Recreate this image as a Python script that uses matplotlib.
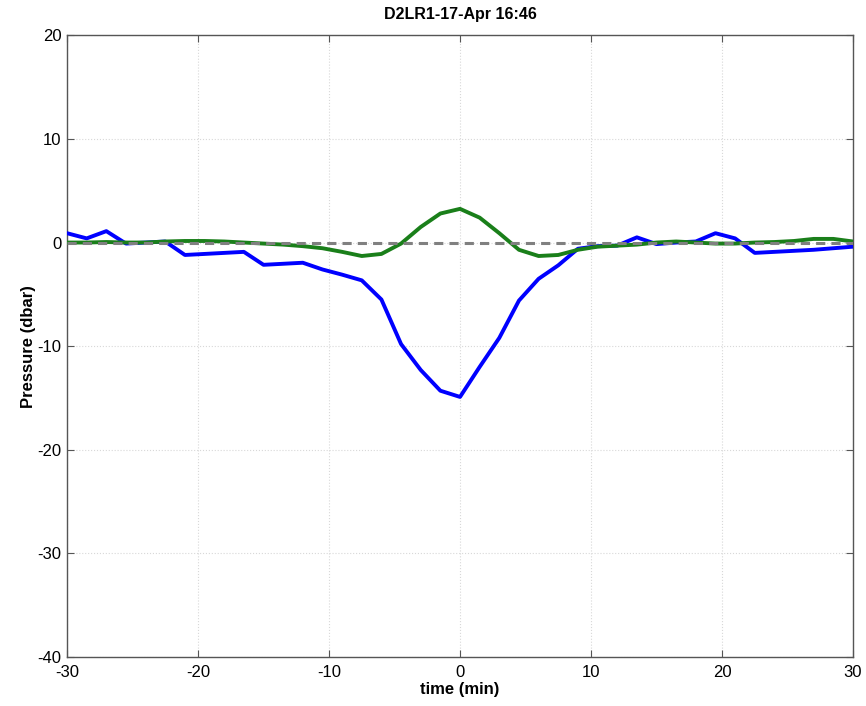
import matplotlib
matplotlib.use("Agg")
import matplotlib.pyplot as plt
import numpy as np

# time axis (min), sampled every 1.5 min
t = np.arange(-30, 30.01, 1.5)

# blue trace
p_blue = [0.9, 0.4, 1.1, -0.1, 0.0, 0.1, -1.2, -1.1, -1.0, -0.9,
          -2.15, -2.05, -1.95, -2.6, -3.1, -3.65, -5.5, -9.8, -12.3, -14.3,
          -14.9, -12.0, -9.2, -5.6, -3.5, -2.2, -0.6, -0.35, -0.3, 0.5,
          -0.15, 0.0, 0.1, 0.9, 0.4, -1.0, -0.9, -0.8, -0.7, -0.55, -0.4]

# green trace
p_green = [0.0, 0.0, 0.05, 0.0, 0.0, 0.1, 0.15, 0.15, 0.1, 0.0,
           -0.1, -0.2, -0.35, -0.55, -0.9, -1.3, -1.1, -0.1, 1.5, 2.8,
           3.25, 2.4, 0.9, -0.7, -1.3, -1.2, -0.7, -0.4, -0.3, -0.2,
           0.0, 0.1, 0.0, -0.1, -0.1, 0.0, 0.05, 0.15, 0.35, 0.35, 0.1]

xticks = [-30, -20, -10, 0, 10, 20, 30]
yticks = [-40, -30, -20, -10, 0, 10, 20]

plt.rcParams['font.family'] = ['Liberation Sans', 'DejaVu Sans']
plt.rcParams['axes.unicode_minus'] = False

fig = plt.figure(figsize=(8.66, 7.06), dpi=100)
ax = fig.add_axes([0.0774, 0.0694, 0.9076, 0.8806])

ax.plot(t, p_blue, color='#0000ff', lw=2.8, zorder=3)
ax.plot(t, p_green, color='#1a7f1a', lw=2.8, zorder=4)
ax.axhline(0, color='#808080', lw=2.2, ls=(0, (3, 2)), zorder=5)

ax.set_xlim(-30, 30)
ax.set_ylim(-40, 20)
ax.set_xticks(xticks)
ax.set_yticks(yticks)
ax.grid(True, color='#d8d8d8', ls=':', lw=0.8)
ax.tick_params(direction='in', top=True, right=True, length=5,
               labelsize=12, color='#555555')
ax.tick_params(axis='x', pad=6)
ax.tick_params(axis='y', pad=4)
for s in ax.spines.values():
    s.set_color('#555555')
    s.set_linewidth(1.0)

ax.set_title('D2LR1-17-Apr 16:46', fontsize=11.5, fontweight='bold', pad=12)
ax.set_xlabel('time (min)', fontsize=12, fontweight='bold', labelpad=1)
ax.set_ylabel('Pressure (dbar)', fontsize=12, fontweight='bold', labelpad=1)

fig.savefig('out.png', dpi=100)
